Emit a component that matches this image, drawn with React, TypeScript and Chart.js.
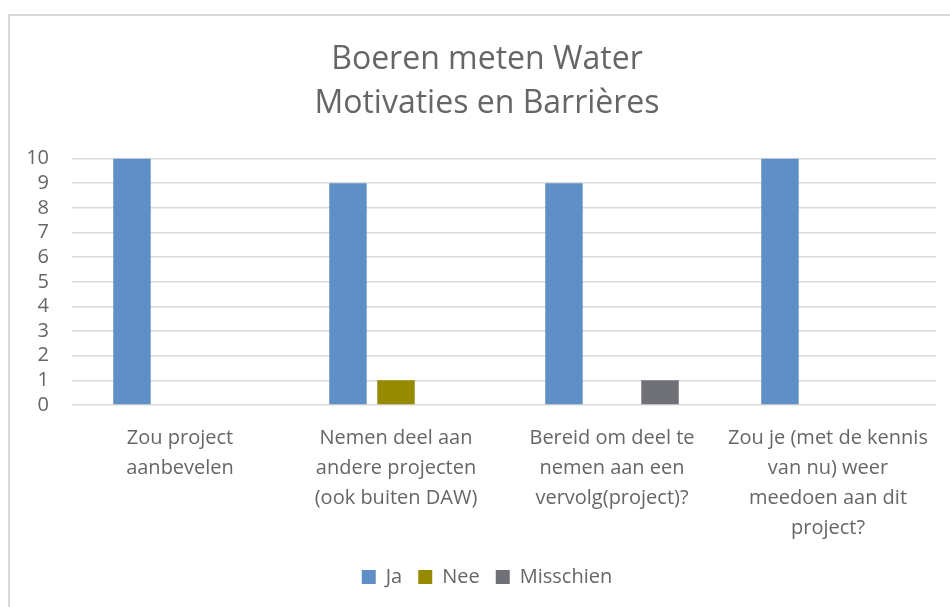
import React, { useEffect, useRef } from "react";
import { Chart, registerables } from "chart.js";

Chart.register(...registerables);

const categories: string[][] = [
  ["Zou project", "aanbevelen"],
  ["Nemen deel aan", "andere projecten", "(ook buiten DAW)"],
  ["Bereid om deel te", "nemen aan een", "vervolg(project)?"],
  ["Zou je (met de kennis", "van nu) weer", "meedoen aan dit", "project?"],
];
const ja: (number | null)[] = [10, 9, 9, 10];
const nee: (number | null)[] = [null, 1, null, null];
const misschien: (number | null)[] = [null, null, 1, null];
const titleLines = ["Boeren meten Water", "Motivaties en Barrières"];

const FONT = "'Open Sans', sans-serif";
const TEXT = "#666666";

export default function App() {
  const ref = useRef<HTMLCanvasElement>(null);

  useEffect(() => {
    if (!ref.current) return;
    const chart = new Chart(ref.current, {
      type: "bar",
      data: {
        labels: categories,
        datasets: [
          { label: "Ja", data: ja, backgroundColor: "#5f8fc4" },
          { label: "Nee", data: nee, backgroundColor: "#968b00" },
          { label: "Misschien", data: misschien, backgroundColor: "#707176" },
        ],
      },
      options: {
        animation: false,
        responsive: false,
        layout: { padding: { left: 14, right: 14, top: 21, bottom: 15 } },
        datasets: {
          bar: { categoryPercentage: 0.667, barPercentage: 0.78 },
        },
        plugins: {
          title: {
            display: true,
            text: titleLines,
            color: TEXT,
            font: { family: FONT, size: 32, weight: "normal" as any, lineHeight: 1.4 },
            padding: { top: 0, bottom: 32 },
          },
          legend: {
            position: "bottom",
            labels: {
              color: TEXT,
              font: { family: FONT, size: 20 },
              boxWidth: 14,
              boxHeight: 14,
              padding: 16,
            },
          },
          tooltip: { enabled: false },
        },
        scales: {
          x: {
            grid: { display: false, drawTicks: false },
            border: { display: false },
            ticks: {
              color: TEXT,
              font: { family: FONT, size: 20, lineHeight: 1.5 },
              maxRotation: 0,
              autoSkip: false,
              padding: 18,
            },
            afterFit: (s: any) => {
              s.height = 146;
            },
          },
          y: {
            min: 0,
            max: 10,
            grid: { color: "#d9d9d9", lineWidth: 1.5, drawTicks: false },
            border: { display: false },
            ticks: {
              stepSize: 1,
              color: TEXT,
              font: { family: FONT, size: 20, lineHeight: 1.0 },
              padding: 23,
            },
            afterFit: (s: any) => {
              s.width = 48;
            },
          },
          // empty spacer on the right edge of the plot
          gap: {
            type: "linear",
            position: "right",
            display: true,
            grid: { display: false, drawTicks: false },
            border: { display: false },
            ticks: { display: false },
            afterFit: (s: any) => {
              s.width = 14;
            },
          },
        },
      },
    });
    return () => chart.destroy();
  }, []);

  return (
    <div style={{ position: "fixed", left: 0, top: 0, width: 950, height: 607, overflow: "hidden", background: "#fff" }}>
      <div
        style={{
          position: "absolute",
          left: 8,
          top: 14,
          width: 958,
          height: 600,
          border: "2px solid #d9d9d9",
          boxSizing: "border-box",
          background: "#fff",
        }}
      >
        <canvas ref={ref} width={954} height={596} style={{ display: "block" }} />
      </div>
    </div>
  );
}
